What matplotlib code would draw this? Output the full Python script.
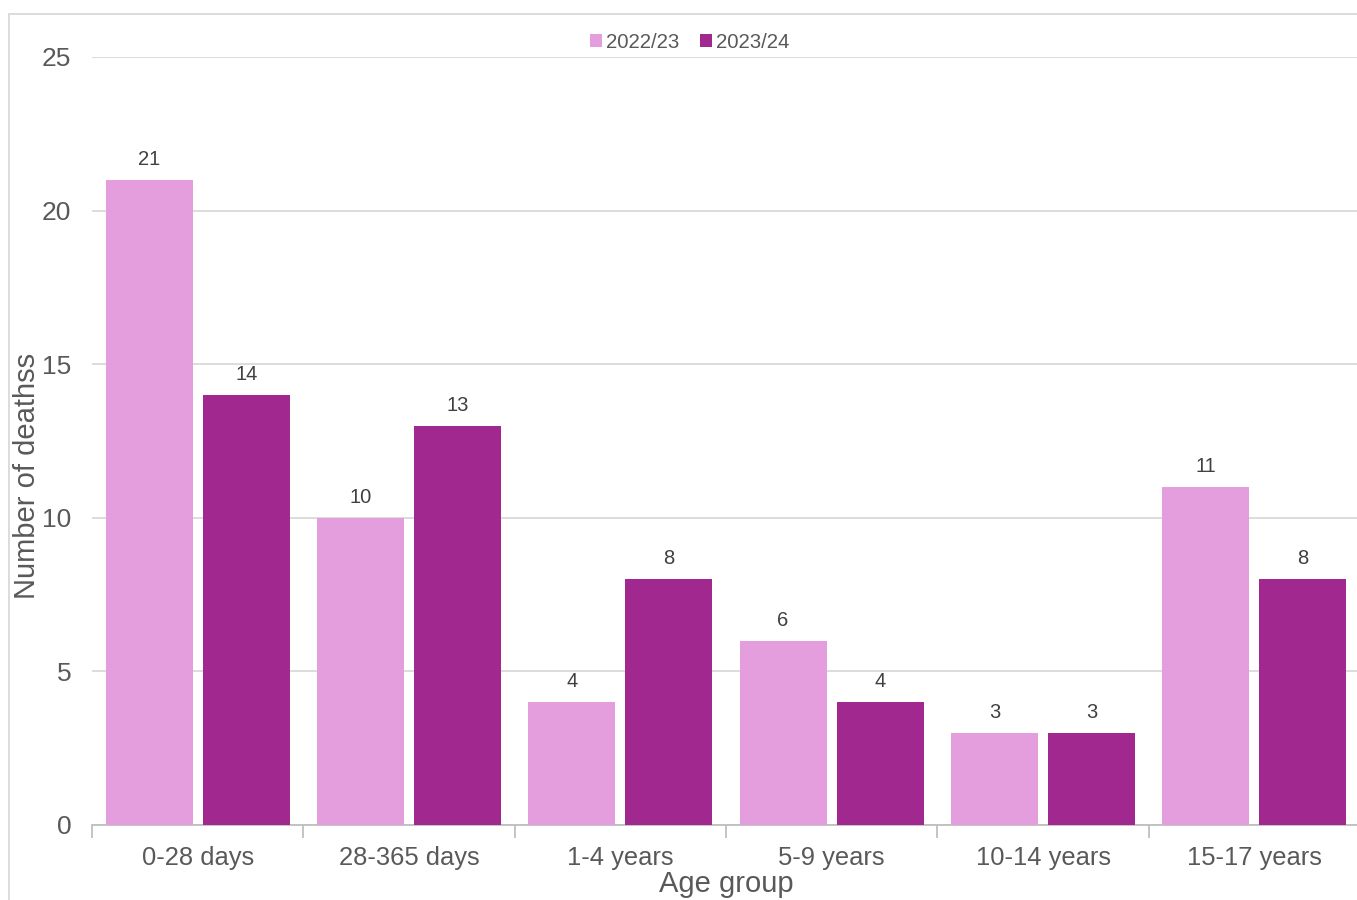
import numpy as np
import matplotlib.pyplot as plt
from matplotlib.patches import Rectangle

plt.rcParams['font.family'] = ['Liberation Sans', 'DejaVu Sans']

age_groups = ['0-28 days', '28-365 days', '1-4 years', '5-9 years', '10-14 years', '15-17 years']
deaths_2022 = [21, 10, 4, 6, 3, 11]
deaths_2023 = [14, 13, 8, 4, 3, 8]
series_names = ['2022/23', '2023/24']

pink = '#E59EDD'
purple = '#A0288F'
text_grey = '#595959'
grid_grey = '#D9D9D9'

fig = plt.figure(figsize=(13.57, 9), dpi=100)
ax = fig.add_axes([92 / 1357, 1 - 825 / 900, (1360 - 92) / 1357, (825 - 57) / 900])

# outer chart border
fig.patches.append(Rectangle((9 / 1357, -0.05), 1.1, 1 - 14 / 900 + 0.05,
                             transform=fig.transFigure, fill=False,
                             edgecolor=grid_grey, linewidth=1.3))

x = np.arange(len(age_groups))
w = 87 / 211
off = (w + 10 / 211) / 2
b1 = ax.bar(x - off, deaths_2022, w, color=pink, label=series_names[0], zorder=3)
b2 = ax.bar(x + off, deaths_2023, w, color=purple, label=series_names[1], zorder=3)

for bars in (b1, b2):
    for rect in bars:
        h = rect.get_height()
        ax.text(rect.get_x() + rect.get_width() / 2, h + 0.35, f'{h:g}',
                ha='center', va='bottom', fontsize=14.5, color='#404040')

ax.set_xlim(-0.5, len(age_groups) - 0.5)
ax.set_ylim(0, 25)
ax.set_yticks(range(0, 26, 5))
ax.yaxis.grid(True, color=grid_grey, linewidth=1.3, zorder=0)
ax.tick_params(axis='y', length=0, labelsize=19, labelcolor=text_grey, pad=15)

# category labels centred, tick marks at group boundaries
ax.set_xticks(x)
ax.set_xticklabels(age_groups)
ax.tick_params(axis='x', which='major', length=0, labelsize=18.4,
               labelcolor=text_grey, pad=15)
ax.set_xticks(np.arange(-0.5, len(age_groups) + 0.5), minor=True)
ax.tick_params(axis='x', which='minor', length=9, width=1.3, color='#BFBFBF',
               direction='out')

for s in ['top', 'right', 'left']:
    ax.spines[s].set_visible(False)
ax.spines['bottom'].set_color('#BFBFBF')
ax.spines['bottom'].set_linewidth(1.3)

ax.set_ylabel('Number of deathss', fontsize=21, color=text_grey)
ax.yaxis.set_label_coords((41 - 92) / 1268, (825 - 476) / 768)
ax.set_xlabel('Age group', fontsize=21, color=text_grey, labelpad=0)

fig.legend(loc='center', bbox_to_anchor=(690 / 1357, 1 - 42 / 900), ncol=2,
           frameon=False, fontsize=14.7, labelcolor=text_grey,
           handlelength=0.6, handleheight=0.6, handletextpad=0.2,
           columnspacing=1.0)

fig.savefig('out.png', dpi=100)
